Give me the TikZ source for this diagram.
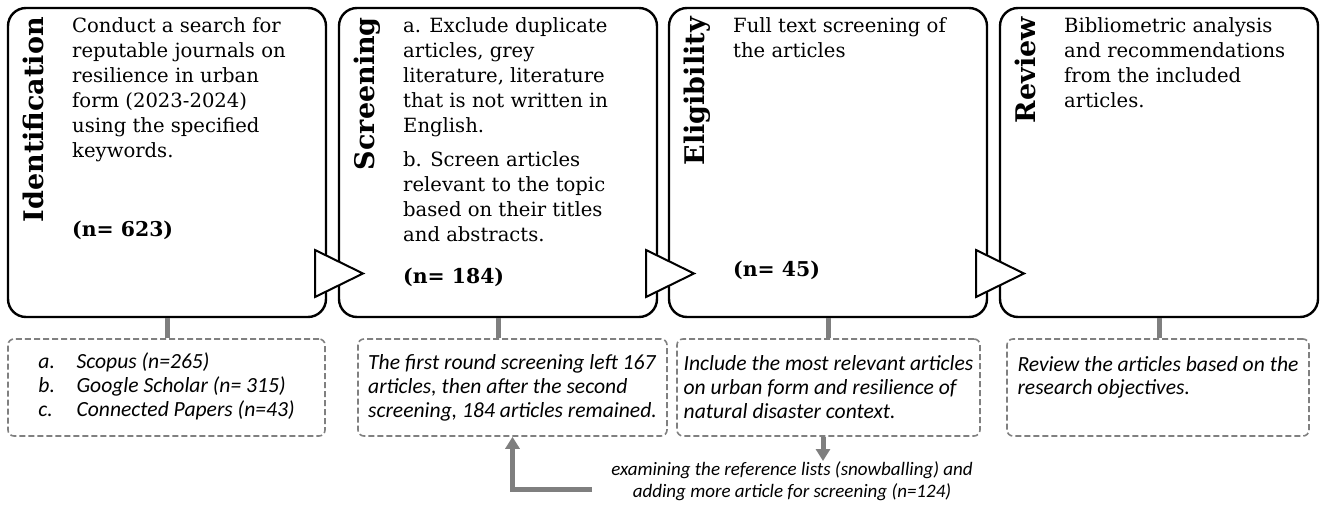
\documentclass[tikz,border=0pt]{standalone}
\usepackage{fontspec}
\setmainfont{DejaVu Serif}
\newfontfamily\notefont{Carlito}
\usetikzlibrary{positioning, arrows.meta}

\definecolor{linkgray}{HTML}{7F7F7F}
\definecolor{notegray}{HTML}{808080}

\tikzset{
  stage/.style={draw, line width=1.2pt, rounded corners=9pt,
    minimum width=159pt, minimum height=154.5pt, inner sep=0pt},
  stagetitle/.style={rotate=90, inner sep=0pt,
    font=\bfseries\fontsize{13.5}{15}\selectfont},
  stagetext/.style={align=left, inner sep=0pt,
    font=\fontsize{9.8}{12.5}\selectfont},
  count/.style={inner sep=0pt, font=\bfseries\fontsize{10.2}{12}\selectfont},
  note/.style={draw=notegray, dash pattern=on 3pt off 1.5pt, line width=0.8pt,
    rounded corners=3pt, minimum height=48.5pt, inner sep=1.5pt, align=left,
    font=\notefont\itshape\fontsize{10.8}{12}\selectfont},
  link/.style={draw=linkgray, line width=2.5pt},
  pointer/.style={draw, fill=white, line width=1pt, line join=miter}
}

\begin{document}
\begin{tikzpicture}[x=0.5pt, y=-0.5pt]
\useasboundingbox (0,0) rectangle (1324,508);

% stage boxes
\foreach \x/\name in {167/ident, 498/screen, 828/elig, 1159/rev}
\node[stage] (\name) at (\x,162.5) {};

% rotated titles
\foreach \name/\title in {ident/Identification, screen/Screening, elig/Eligibility, rev/Review}
\node[stagetitle, anchor=base east] (\name-title) at ([xshift=18.5pt,yshift=-5pt]\name.north west) {\title};

\node[stagetext, anchor=north west] (ident-text) at ([xshift=32.5pt,yshift=-5pt]ident.north west)
  {Conduct a search for\\reputable journals on\\resilience in urban\\form (2023-2024)\\using the specified\\keywords.};
\node[stagetext, anchor=north west] (screen-text) at ([xshift=32.5pt,yshift=-5pt]screen.north west)
  {a. Exclude duplicate\\articles, grey\\literature, literature\\that is not written in\\English.\\[4.5pt]b. Screen articles\\relevant to the topic\\based on their titles\\and abstracts.};
\node[stagetext, anchor=north west] (elig-text) at ([xshift=32.5pt,yshift=-5pt]elig.north west)
  {Full text screening of\\the articles};
\node[stagetext, anchor=north west] (rev-text) at ([xshift=32.5pt,yshift=-5pt]rev.north west)
  {Bibliometric analysis\\and recommendations\\from the included\\articles.};

\foreach \name/\y/\n in {ident/230/623, screen/277/184, elig/270/45}
\node[count, anchor=west, xshift=32.5pt] (\name-n) at (\name.west |- 0,\y) {(n= \n)};

% pointers between the stages
\foreach \r in {326,657,987}
\draw[pointer] (\r-11,250) -- (\r+37,273.5) -- (\r-11,297) -- cycle;

% dashed notes
\node[note, minimum width=158.5pt] (ident-note) at (166.5,387.5)
  {\begin{tabular}{@{}l@{\hspace{1em}}l@{}}a. & Scopus (n=265)\\b. & Google Scholar (n= 315)\\c. & Connected Papers (n=43)\end{tabular}};
\node[note, minimum width=154.5pt] (screen-note) at (512.5,387.5)
  {The first round screening left 167\\articles, then after the second\\screening, 184 articles remained.};
\node[note, minimum width=151.5pt] (elig-note) at (828.5,387.5)
  {Include the most relevant articles\\on urban form and resilience of\\natural disaster context.};
\node[note, minimum width=151pt] (rev-note) at (1158,387.5)
  {Review the articles based on the\\research objectives.\\~};

\foreach \name in {ident, screen, elig, rev}
\draw[link] (\name.south) -- (\name.south |- \name-note.north);

% snowballing
\node[align=center, inner sep=0pt, font=\notefont\itshape\fontsize{9.5}{11}\selectfont] (snow) at (792,481)
  {examining the reference lists (snowballing) and\\adding more article for screening (n=124)};
\coordinate (snow-in) at (823,461);
\coordinate (snow-out) at (592,489);
\draw[link, -{Triangle[width=7pt,length=6pt]}] (elig-note.south -| snow-in) -- (snow-in);
\draw[link, -{Triangle[width=7pt,length=6pt]}] (snow-out) -| (screen-note.south);

\end{tikzpicture}
\end{document}
